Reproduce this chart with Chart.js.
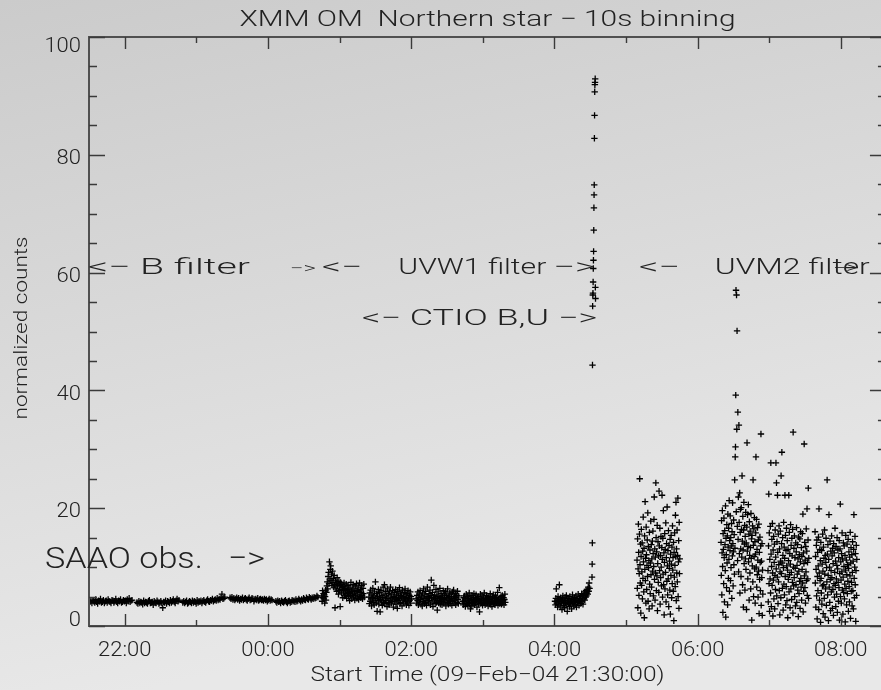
<!DOCTYPE html>
<html>
<head>
<meta charset="utf-8">
<title>XMM OM Northern star</title>
<script src="https://cdn.jsdelivr.net/npm/chart.js@4.4.1/dist/chart.umd.min.js"></script>
<style>
  html, body { margin: 0; padding: 0; background: #d9d9d9; overflow: hidden; }
  #wrap { width: 881px; height: 690px; }
</style>
</head>
<body>
<div id="wrap"><canvas id="lc" width="881" height="690"></canvas></div>
<script>
// ---- light curve, normalized counts (time in hours from 09-Feb-04 00:00) ----
const bFilter1 = [4.1,4.3,3.9,4.4,4.2,4.0,4.5,4.1,3.8,4.3,4.2,4.6,4.0,4.1,4.4,3.9,4.2,4.3,4.0,4.5,4.2,4.1,3.9,4.4,4.3,4.0,4.2,4.6,4.1,3.9,4.3,4.2,4.5,4.0,4.1,4.4,4.2,4.3,3.9,4.5,4.2,4.7,4.1,4.3,4.4];
const bFilter2 = [4.0,3.8,4.2,3.9,4.1,4.0,3.7,4.3,3.9,4.1,4.0,3.8,4.2,4.4,3.9,4.0,4.1,3.6,4.2,4.0,3.9,4.3,4.1,3.8,4.0,4.2,3.9,3.1,4.1,4.0,4.3,3.8,4.2,4.1,3.9,4.4,4.0,4.2,4.5,4.1,3.9,4.3,4.6,4.2,4.4];
const bFilter3 = [4.0,4.2,3.9,4.1,4.3,3.8,4.0,4.2,4.1,3.9,4.3,4.0,4.2,4.1,3.8,4.4,4.0,4.2,4.1,4.3,3.9,4.2,4.4,4.1,4.0,4.3,4.5,4.2,4.1,4.4,4.3,4.6,4.2,4.4,4.5,4.3,4.7,4.4,4.6,4.5,4.8,5.4,4.6,4.7,4.9];
const bFilter4 = [4.8,4.6,4.9,4.5,4.7,4.4,4.6,4.8,4.5,4.7,4.3,4.6,4.5,4.8,4.4,4.6,4.7,4.5,4.3,4.6,4.8,4.4,4.5,4.7,4.6,4.2,4.5,4.6,4.4,4.7,4.3,4.5,4.6,4.4,4.5,4.3,4.6,4.4,4.5,4.2,4.4,4.6,4.3,4.5,4.4];
const bFilter5 = [4.2,4.0,4.3,4.1,4.2,3.9,4.3,4.1,4.0,4.2,4.4,4.1,3.9,4.2,4.3,4.0,4.1,4.4,4.2,4.3,4.1,4.5,4.2,4.3,4.6,4.4,4.2,4.5,4.3,4.7,4.5,4.4,4.8,4.6,4.5,4.9,4.7,4.5,4.8,4.6,4.9,4.7,4.8,5.1,4.9];

const uvw1a = [5.1,4.2,6.0,4.8,5.5,4.6,5.3,3.9,5.0,6.1,4.4,5.7,6.8,7.5,6.3,8.4,9.1,7.2,10.9,8.0,
  9.6,10.2,7.7,8.8,6.9,9.3,7.4,8.1,6.6,8.6,7.0,3.1,7.8,6.3,7.3,5.9,8.2,6.8,7.1,5.4,
  7.6,6.0,6.9,3.3,7.4,6.2,5.6,7.0,6.5,4.8,6.7,5.8,7.3,5.1,6.4,6.0,5.3,7.1,4.7,6.2,
  5.5,6.9,5.0,6.3,5.7,4.3,6.6,5.2,7.4,5.9,4.6,6.1,5.4,7.0,4.9,6.3,5.6,4.4,6.8,5.1,
  5.9,7.2,4.7,6.0,5.3,6.6,4.5,5.8,7.3,5.0,6.2,4.8,5.7,6.9,5.2,4.6,6.4,5.5,7.1,4.9];
const uvw1b = [4.9,3.8,5.6,4.2,6.1,4.6,3.4,5.3,4.8,6.4,4.0,5.1,3.6,5.8,4.4,7.5,4.7,3.9,5.5,2.5,
  5.0,4.3,6.2,3.7,4.9,5.7,2.4,4.5,6.0,4.1,5.2,3.5,4.8,6.6,4.0,5.4,7.0,3.8,4.6,5.9,
  4.3,5.1,3.3,6.3,4.7,5.5,4.0,3.6,5.8,4.4,6.6,4.9,3.9,5.3,4.2,6.0,4.6,3.2,5.0,5.7,
  4.1,4.8,6.2,3.7,5.4,4.5,3.0,5.9,4.3,5.1,4.7,6.5,3.8,5.2,4.0,5.6,4.9,3.4,6.1,4.4,
  5.0,3.9,5.7,4.6,6.3,4.2,5.3,3.6,4.8,5.5,4.1,6.0,4.7,3.5,5.2,4.4,5.8,3.9,5.0,4.6];
const uvw1c = [4.6,3.9,5.2,4.3,5.8,3.6,4.8,5.4,4.1,6.0,4.5,3.7,5.1,4.9,3.4,5.6,4.2,6.3,4.7,3.8,
  5.3,4.0,5.9,4.4,3.5,5.0,6.6,4.3,4.9,3.9,5.5,4.6,6.1,3.6,5.2,7.8,4.8,4.1,5.7,3.3,
  4.9,6.9,4.4,5.3,3.8,4.7,6.2,4.0,5.1,2.7,4.6,5.8,3.9,5.0,4.3,6.4,3.7,4.8,5.5,4.2,
  3.6,5.1,4.5,6.0,3.9,4.7,5.3,4.1,5.9,3.4,4.8,5.2,4.0,6.3,4.4,3.7,5.0,4.6,5.6,3.8,
  4.3,5.4,4.9,3.5,5.8,4.2,4.7,6.1,3.9,5.0,4.4,5.5,3.6,4.8,5.2,4.0,5.9,4.5,3.8,5.1];
const uvw1d = [4.2,3.6,4.8,3.9,5.1,4.4,3.3,4.6,5.4,3.8,4.1,5.0,3.5,4.7,4.0,5.6,3.7,4.3,2.9,4.9,
  4.5,3.4,5.2,4.0,3.8,4.6,5.5,3.6,4.2,4.8,3.9,5.3,4.4,3.2,4.7,4.1,5.0,3.7,4.5,2.4,
  4.3,5.4,3.8,4.6,4.0,5.1,3.5,4.4,4.9,3.9,5.6,4.1,3.6,4.7,4.3,5.2,3.8,4.0,4.8,3.4,
  4.5,5.0,3.9,4.2,5.5,3.7,4.6,4.1,3.3,4.9,4.4,5.3,3.8,4.0,4.7,3.6,5.1,4.3,3.9,4.8,
  4.2,5.7,3.5,4.5,4.0,6.5,3.8,4.6,4.1,5.0,3.7,4.4,5.2,3.9,4.3,4.8,3.6,4.5,5.4,4.0];
const uvw1e = [4.2,3.6,4.7,6.3,3.9,4.4,3.2,5.0,4.1,3.7,7.0,4.5,3.4,4.8,3.9,4.2,2.8,4.6,5.1,3.5,
  4.0,4.4,3.1,4.9,3.8,4.3,5.2,3.6,2.5,4.1,4.7,3.9,4.4,3.3,5.0,4.0,3.7,4.6,2.9,4.2,
  5.3,3.8,4.5,3.4,4.1,4.8,3.6,4.3,5.1,3.2,4.6,4.0,3.9,5.4,4.2,3.5,4.7,4.4,5.0,3.8,
  4.3,5.5,4.1,4.9,3.7,5.2,4.6,5.8,4.4,5.3,4.9,6.0,5.1,5.6,6.2,5.4,6.6,5.9,7.3,6.4];
const flare = [8.3,10.5,14.1,44.3,54.3,56.2,56.5,58.4,60.7,62.1,63.6,67.2,71.0,73.2,74.9,82.8,86.7,90.7,91.9,92.3,92.9,57.5,55.6];

const uvm2a = [11.2,6.4,14.8,3.1,9.7,17.3,12.5,5.2,8.9,15.6,25.0,10.4,7.3,13.9,2.2,11.8,16.4,6.9,9.2,14.1,
  4.6,12.7,8.1,18.5,10.9,5.8,13.2,1.4,15.3,9.6,21.1,7.7,11.5,3.9,16.8,12.1,6.2,10.3,14.6,8.4,
  19.2,4.2,13.5,9.9,11.1,2.9,15.9,7.1,12.9,5.5,10.7,17.8,8.7,13.8,6.6,11.4,3.4,14.4,9.3,16.1,
  12.3,5.1,10.1,18.1,21.9,7.9,13.1,4.4,11.7,9.0,24.3,15.0,6.0,12.6,8.5,17.1,2.6,10.6,14.3,7.4,
  11.9,5.7,22.9,13.6,9.4,16.6,3.7,12.0,8.2,15.2,10.0,6.8,13.3,22.2,11.3,4.9,14.9,8.8,19.6,7.0,
  12.4,1.9,10.8,15.7,6.3,13.0,9.1,17.5,4.1,11.6,14.0,7.6,20.2,10.2,5.3,12.8,8.0,16.2,3.3,13.7,
  9.8,11.0,6.1,14.7,2.0,12.2,8.6,15.4,10.5,4.8,13.4,7.2,17.0,9.5,11.6,5.9,14.2,0.9,12.5,8.3,
  15.8,10.3,6.7,18.8,11.8,21.0,4.3,13.1,9.0,16.3,7.5,12.0,21.7,5.0,10.9,14.5,3.0,17.6,8.9,11.4];
const uvm2b = [14.2,8.6,17.9,5.3,12.4,19.6,10.1,2.3,15.7,13.0,7.2,18.3,11.6,4.1,16.2,13.8,9.4,20.4,1.5,14.9,
  12.1,6.5,17.2,10.7,15.3,3.6,19.0,13.4,8.1,16.6,11.3,21.3,5.9,14.5,12.8,18.7,7.7,15.0,9.9,13.6,
  17.4,4.7,16.0,11.9,20.9,14.0,6.8,12.6,18.0,10.4,15.5,8.8,24.8,13.2,28.7,30.4,39.2,57.0,19.4,56.2,
  33.4,50.1,16.9,11.1,36.3,14.7,21.9,9.2,34.1,17.6,12.3,22.6,5.6,15.9,19.8,13.1,8.4,20.1,16.4,11.7,
  25.5,14.4,7.0,18.6,12.9,3.2,16.3,21.0,10.6,13.9,17.1,6.1,15.2,11.4,19.3,9.6,14.1,2.8,16.8,31.1,
  12.7,18.9,8.0,13.5,20.6,10.9,15.6,4.4,17.7,12.0,9.0,16.1,13.3,6.3,19.1,11.5,14.8,1.0,15.4,10.2,
  17.0,7.5,24.8,13.7,5.0,16.5,11.8,18.4,9.7,14.3,3.9,12.2,15.8,28.7,10.0,18.1,6.6,13.0,8.7,16.7,
  11.2,4.9,14.6,9.3,17.3,2.1,12.5,7.9,15.1,10.8,6.0,13.6,32.6,3.5,11.0,8.2,14.0,1.8,9.5,5.4];
const uvm2c = [9.4,4.1,13.6,22.4,7.2,15.8,2.5,11.3,8.0,16.9,5.6,27.7,12.2,3.3,10.1,14.7,6.9,17.4,9.0,1.7,
  12.9,7.8,15.2,4.6,10.8,13.9,2.9,8.6,16.3,6.2,11.7,27.7,9.7,24.3,5.1,14.3,8.3,22.2,12.5,3.8,
  15.6,7.5,10.4,17.0,6.0,13.1,1.9,9.2,16.1,11.0,4.8,25.5,8.9,14.0,29.5,10.7,6.4,15.0,12.0,2.7,
  9.9,17.6,7.1,13.4,5.3,11.5,22.2,8.4,15.4,3.6,12.8,6.7,16.6,10.2,4.3,14.5,9.5,1.4,13.0,7.9,
  11.1,22.2,5.8,15.9,8.7,12.3,3.1,10.5,17.2,6.3,13.7,9.1,4.5,14.9,11.9,7.4,16.4,2.2,32.9,10.0,
  6.8,13.2,8.2,15.3,5.0,11.6,9.8,3.4,14.1,7.0,12.6,16.7,4.0,10.3,8.8,13.8,6.1,11.4,1.6,15.1,
  9.3,5.5,12.1,7.6,14.8,3.0,10.9,16.0,8.1,6.6,13.3,4.4,11.8,9.6,15.7,7.3,19.0,2.4,12.4,5.9,
  10.6,30.9,8.5,14.2,6.5,11.2,3.9,13.5,9.2,16.5,7.7,12.7,19.9,5.2,10.8,8.0,14.6,23.4,4.7,11.5];
const uvm2d = [16.0,7.3,11.8,3.2,9.6,13.7,5.1,14.6,1.2,8.4,12.5,6.0,10.2,15.1,2.8,19.9,9.0,4.4,13.0,7.7,
  11.1,0.6,14.2,8.1,5.6,12.8,3.7,10.5,6.8,15.6,9.3,2.1,13.4,7.0,11.5,4.7,16.3,8.8,1.5,12.0,
  6.3,10.8,14.9,3.5,9.9,7.5,24.8,12.2,5.3,13.8,8.6,0.9,11.3,18.9,6.6,10.0,4.0,14.4,7.9,2.6,
  12.7,9.4,5.8,15.3,8.2,11.9,3.0,13.2,6.2,10.6,1.8,14.0,7.2,12.4,4.9,9.1,16.6,6.9,11.0,3.3,
  13.5,8.0,5.4,10.3,15.0,2.3,9.7,12.9,7.4,4.2,11.6,6.5,14.5,1.0,8.9,13.1,20.7,5.0,10.9,7.8,
  3.9,12.3,9.2,15.8,6.1,11.4,2.0,8.3,14.1,5.7,10.1,13.6,4.6,7.1,12.0,0.7,9.5,15.4,6.4,11.2,
  3.6,8.7,13.9,5.5,10.4,7.6,14.7,2.5,9.8,12.6,6.7,4.1,11.7,8.5,15.9,1.3,10.7,13.3,5.9,7.4,
  12.1,3.4,9.1,14.3,6.0,11.0,2.9,13.0,18.9,8.1,4.8,10.0,15.2,7.0,12.3,0.8,9.4,13.7,5.2,11.3];

// exposure blocks: first bin time (hours) and spacing between plotted bins (seconds)
const segStart  = [21.514, 22.170, 22.810, 23.470, 24.110, 24.750, 25.410, 26.070, 26.720, 28.008, 28.525, 29.154, 30.327, 30.983, 31.640];
const segStepS  = [48, 48, 48, 48, 48, 21.6, 21.6, 21.6, 21.6, 22, 8, 13.5, 13.2, 12.9, 13.2];
const segValues = [bFilter1, bFilter2, bFilter3, bFilter4, bFilter5, uvw1a, uvw1b, uvw1c, uvw1d, uvw1e, flare, uvm2a, uvm2b, uvm2c, uvm2d];

// axes: the plotted window is cut at the page edge; the right axis lies at frameEnd
const timeMin = 21.5, timeMax = 32.561, frameEnd = 32.63;
const yTicks = [0, 20, 40, 60, 80, 100];
const xTickHours  = [22, 24, 26, 28, 30, 32];
const xTickLabels = ['22:00', '00:00', '02:00', '04:00', '06:00', '08:00'];

// texts
const titleText = 'XMM OM  Northern star \u2212 10s binning';
const xTitle = 'Start Time (09\u2212Feb\u221204 21:30:00)';
const yTitle = 'normalized counts';
const noteTexts = ['<\u2212 B filter', '\u2212>', '<\u2212', 'UVW1 filter', '\u2212>', '<\u2212',
                   'UVM2 filter', '\u2212>', '<\u2212 CTIO B,U \u2212>', 'SAAO obs.   \u2212>'];
// anchor (time, value at baseline), font size and drawn width of each note
const noteStyle = [
  { t: 21.486, v: 59.8, size: 22, w: 162 },
  { t: 24.307, v: 60.0, size: 14, w: 26 },
  { t: 24.754, v: 59.8, size: 22, w: 40 },
  { t: 25.820, v: 59.8, size: 22, w: 148 },
  { t: 27.980, v: 59.8, size: 22, w: 42 },
  { t: 29.180, v: 59.8, size: 22, w: 41 },
  { t: 30.240, v: 59.8, size: 22, w: 155 },
  { t: 31.890, v: 60.0, size: 16, w: 25 },
  { t: 25.313, v: 51.1, size: 22, w: 235 },
  { t: 20.886, v: 9.85, size: 30, w: 220 }
];

// ---- build points ----
const points = [];
segValues.forEach((vals, s) => {
  vals.forEach((v, i) => points.push({ x: segStart[s] + i * segStepS[s] / 3600, y: v }));
});

const FONT = 'Roboto, "DejaVu Sans", sans-serif';
const INK = '#222';

// draws text with an optional horizontal stretch, or stretched to a given width
function label(ctx, str, x, y, size, align, opt) {
  opt = opt || {};
  ctx.save();
  ctx.font = '300 ' + size + 'px ' + FONT;
  ctx.fillStyle = INK;
  ctx.textBaseline = 'alphabetic';
  const raw = ctx.measureText(str).width;
  const sx = opt.width ? opt.width / raw : (opt.stretch || 1.1);
  const w = raw * sx;
  let x0 = x;
  if (align === 'center') x0 = x - w / 2;
  else if (align === 'right') x0 = x - w;
  ctx.translate(x0, y);
  ctx.scale(sx, 1);
  ctx.textAlign = 'left';
  ctx.fillText(str, 0, 0);
  ctx.restore();
}

const idlFrame = {
  id: 'idlFrame',
  beforeDraw(chart) {
    const { ctx, width, height } = chart;
    const g = ctx.createLinearGradient(0, 0, 150, height);
    g.addColorStop(0, '#cbcbcb');
    g.addColorStop(1, '#e8e8e8');
    ctx.save();
    ctx.fillStyle = g;
    ctx.fillRect(0, 0, width, height);
    ctx.restore();
  },
  afterDatasetsDraw(chart) {
    const { ctx, chartArea: a, scales: { x, y } } = chart;
    const right = x.getPixelForValue(frameEnd);
    ctx.save();
    ctx.strokeStyle = '#505050';
    ctx.lineWidth = 2;
    ctx.strokeRect(a.left, a.top, right - a.left, a.bottom - a.top);
    ctx.strokeStyle = '#3a3a3a';
    ctx.lineWidth = 1.4;
    ctx.beginPath();
    for (let v = 0; v <= 100; v += 5) {
      const py = Math.round(y.getPixelForValue(v)) + 0.5;
      const len = v % 20 === 0 ? 16 : 8;
      ctx.moveTo(a.left, py); ctx.lineTo(a.left + len, py);
      ctx.moveTo(right, py); ctx.lineTo(right - len, py);
    }
    for (let h = Math.ceil(timeMin); h <= frameEnd; h += 1) {
      const px = Math.round(x.getPixelForValue(h)) + 0.5;
      const len = h % 2 === 0 ? 12 : 6;
      ctx.moveTo(px, a.bottom); ctx.lineTo(px, a.bottom - len);
      ctx.moveTo(px, a.top); ctx.lineTo(px, a.top + len);
    }
    ctx.stroke();
    ctx.restore();

    // y tick labels (end labels kept inside the axis span)
    const cap = 20 * 0.711;
    yTicks.forEach((v, i) => {
      const py = y.getPixelForValue(v);
      let base = py + 2 + cap / 2;
      if (i === 0) base = py;
      if (i === yTicks.length - 1) base = py + cap + 1;
      label(ctx, String(v), a.left - 8, base, 20, 'right');
    });
    xTickHours.forEach((h, i) => {
      label(ctx, xTickLabels[i], x.getPixelForValue(h), a.bottom + 30, 20, 'center');
    });
    const midX = (a.left + right) / 2;
    label(ctx, xTitle, midX, a.bottom + 55, 20, 'center', { width: 354 });
    label(ctx, titleText, midX, a.top - 11, 22, 'center', { width: 496 });
    ctx.save();
    ctx.translate(27, 328);
    ctx.rotate(-Math.PI / 2);
    label(ctx, yTitle, 0, 0, 18, 'center', { width: 183 });
    ctx.restore();

    noteTexts.forEach((txt, i) => {
      const s = noteStyle[i];
      label(ctx, txt, x.getPixelForValue(s.t), y.getPixelForValue(s.v), s.size, 'left', { width: s.w });
    });
  }
};

new Chart(document.getElementById('lc'), {
  type: 'scatter',
  data: {
    datasets: [{
      data: points,
      pointStyle: 'cross',
      pointRadius: 3.2,
      pointBorderWidth: 1.3,
      borderColor: '#000',
      backgroundColor: '#000'
    }]
  },
  options: {
    responsive: false,
    animation: false,
    events: [],
    layout: { autoPadding: false, padding: { left: 89, right: 0, top: 37, bottom: 64 } },
    scales: {
      x: { type: 'linear', min: timeMin, max: timeMax, display: false },
      y: { type: 'linear', min: 0, max: 100, display: false }
    },
    plugins: { legend: { display: false }, tooltip: { enabled: false }, title: { display: false } }
  },
  plugins: [idlFrame]
});
</script>
</body>
</html>
